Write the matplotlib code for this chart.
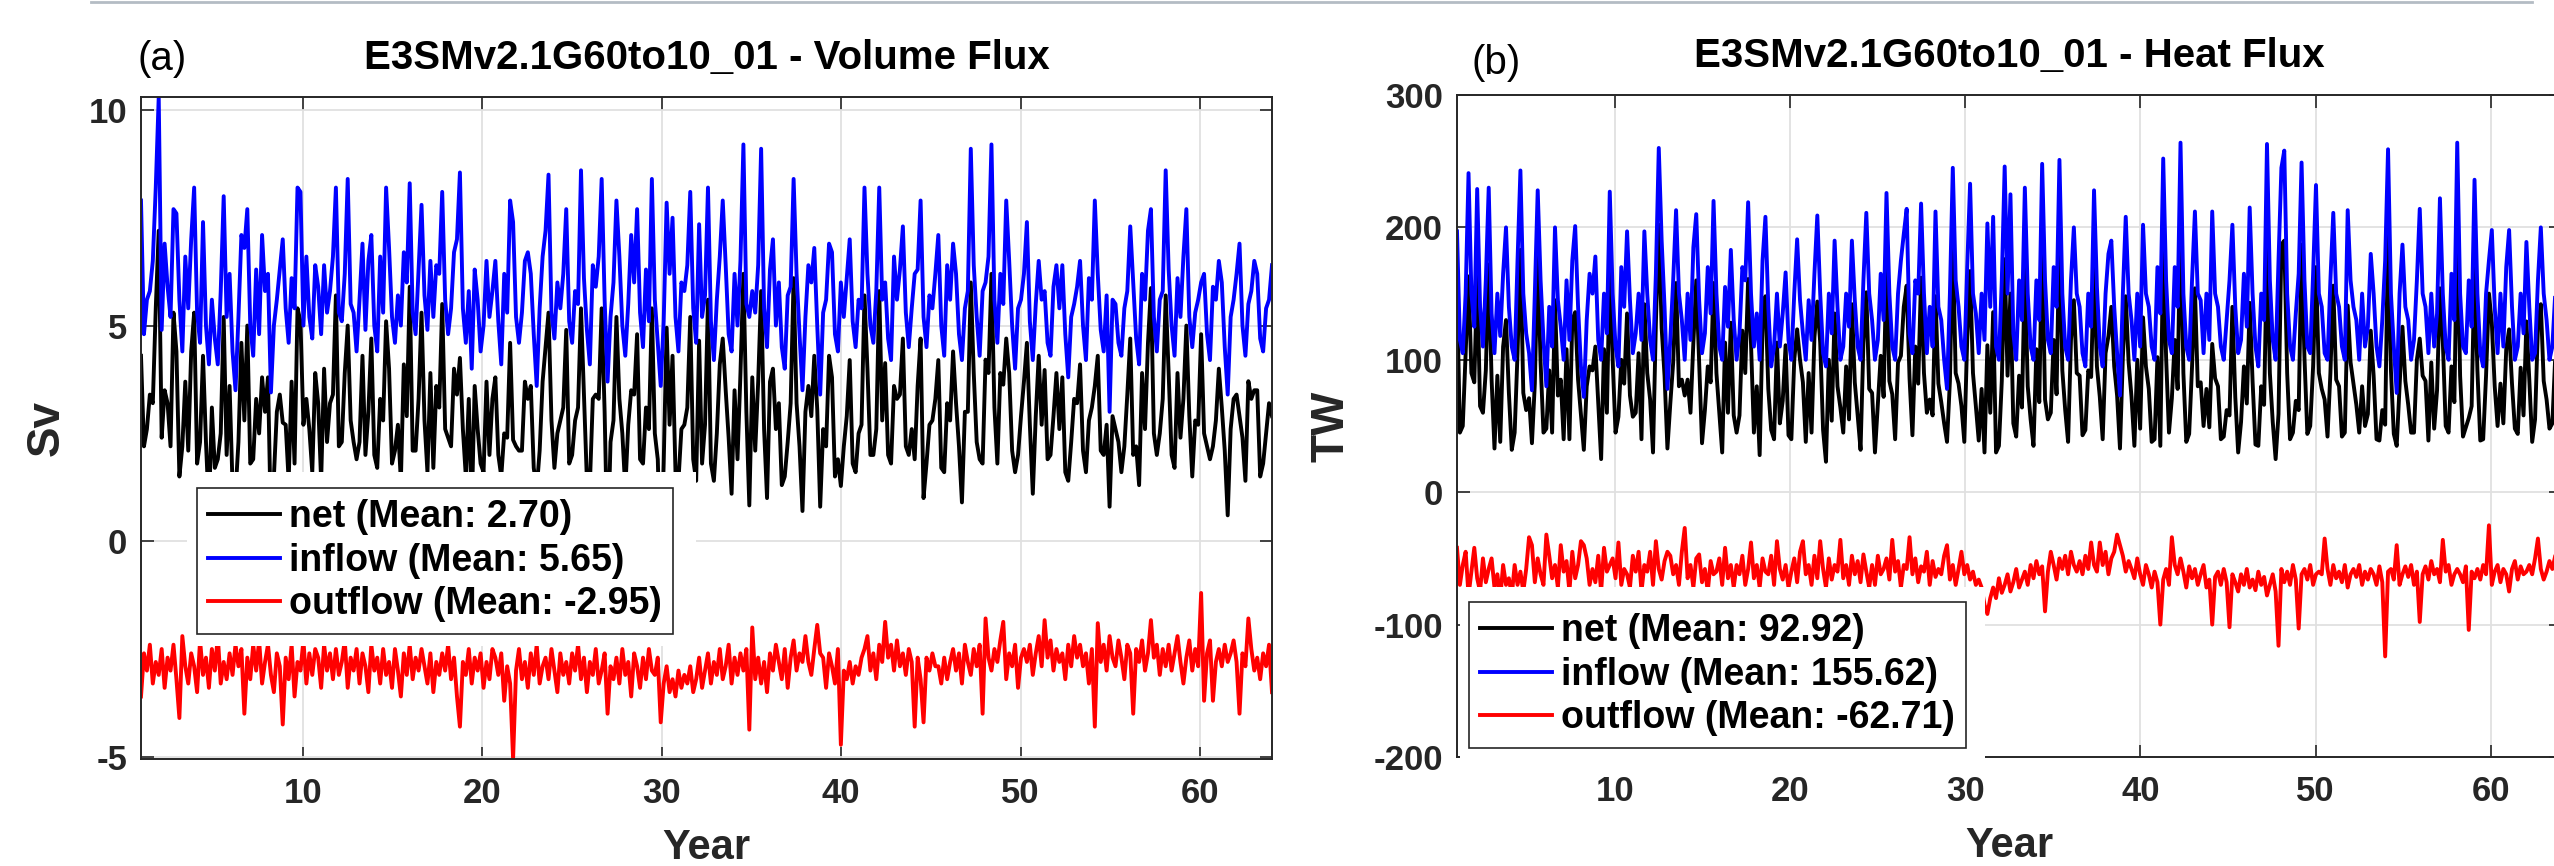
import numpy as np
import matplotlib.pyplot as plt
from matplotlib.patches import Rectangle
from matplotlib.lines import Line2D

# Volume flux (Sv), 6 samples per model year, years 1-64
vol_in = [
    7.9, 4.8, 5.6, 5.8, 6.5, 8.2,   10.3, 4.9, 6.9, 5.9, 5.2, 7.7,
    7.6, 5.6, 4.4, 6.6, 5.4, 7.0,   8.2, 5.3, 4.6, 7.4, 5.0, 4.1,
    5.6, 4.7, 4.1, 5.8, 8.0, 5.2,   6.2, 4.4, 3.5, 5.2, 7.1, 6.8,
    7.7, 5.0, 4.3, 6.3, 4.8, 7.1,   5.8, 6.2, 3.45, 5.0, 5.6, 6.3,
    7.0, 5.4, 4.6, 6.1, 5.4, 8.2,   8.1, 5.0, 6.6, 5.2, 4.7, 6.4,
    5.9, 4.8, 6.4, 5.3, 5.8, 6.6,   8.2, 5.3, 5.1, 6.2, 8.4, 5.5,
    5.3, 4.4, 5.6, 6.9, 4.9, 6.5,   7.1, 5.0, 4.4, 6.6, 5.3, 8.2,
    6.8, 5.2, 4.6, 5.7, 5.0, 6.7,   6.0, 8.3, 5.3, 4.8, 6.3, 7.8,
    5.7, 4.9, 6.5, 5.2, 6.4, 6.2,   8.1, 5.6, 4.8, 5.4, 6.7, 7.0,
    8.55, 5.4, 4.6, 5.8, 4.0, 6.3,  5.6, 4.4, 5.0, 6.5, 5.2, 5.8,
    6.5, 5.1, 4.1, 6.2, 5.3, 7.9,   7.4, 5.2, 4.6, 5.3, 6.5, 6.7,
    6.2, 4.8, 3.6, 5.4, 6.6, 7.2,   8.5, 5.3, 4.7, 6.0, 5.4, 6.2,
    7.7, 5.1, 4.6, 5.8, 5.5, 8.6,   6.1, 4.9, 4.1, 6.4, 5.9, 6.6,
    8.4, 5.6, 3.7, 5.2, 6.0, 7.9,   6.6, 5.0, 4.3, 5.5, 7.1, 6.0,
    7.7, 5.3, 4.5, 6.3, 5.1, 8.4,   5.6, 4.6, 3.6, 5.1, 7.85, 6.2,
    7.5, 5.2, 4.4, 6.0, 5.8, 6.4,   8.1, 5.4, 4.6, 7.35, 5.2, 5.7,
    8.2, 5.1, 4.2, 5.6, 6.6, 7.9,   6.4, 4.8, 4.4, 6.2, 5.0, 6.5,
    9.2, 5.5, 5.2, 5.8, 5.3, 6.4,   9.1, 5.4, 4.5, 6.3, 7.0, 5.0,
    6.0, 4.5, 4.0, 5.7, 5.9, 8.4,   6.2, 4.8, 3.5, 5.2, 6.4, 6.0,
    6.8, 5.0, 3.4, 5.3, 5.6, 6.9,   6.7, 4.8, 4.4, 6.0, 5.2, 6.1,
    7.0, 5.1, 4.5, 5.6, 5.4, 8.2,   6.2, 5.0, 4.6, 5.8, 8.2, 5.6,
    6.0, 4.7, 4.2, 6.6, 5.6, 6.3,   7.3, 5.3, 4.5, 5.4, 6.2, 6.3,
    7.9, 5.2, 4.5, 5.7, 5.4, 6.2,   7.1, 5.0, 4.3, 6.4, 5.6, 6.9,
    6.2, 4.8, 4.2, 5.4, 5.8, 9.1,   6.4, 5.2, 4.3, 5.8, 6.0, 6.6,
    9.2, 5.6, 4.6, 6.2, 5.5, 7.9,   6.5, 5.0, 4.0, 5.4, 5.6, 6.2,
    7.4, 5.1, 4.2, 5.5, 6.5, 5.6,   5.8, 4.6, 4.3, 5.9, 6.4, 5.4,
    6.4, 4.8, 3.8, 5.2, 5.5, 5.9,   6.5, 5.0, 4.2, 6.1, 5.6, 7.9,
    6.2, 4.9, 4.4, 5.7, 3.0, 5.6,   5.5, 4.6, 4.3, 5.4, 5.8, 7.3,
    6.0, 4.7, 4.1, 6.2, 5.6, 7.2,   7.7, 5.2, 4.4, 5.6, 5.8, 8.6,
    6.3, 5.0, 4.3, 6.1, 5.2, 6.6,   7.7, 5.2, 4.5, 5.3, 5.6, 6.0,
    6.2, 4.8, 4.2, 5.9, 5.6, 6.5,   6.0, 4.5, 3.4, 5.2, 5.6, 6.2,
    6.9, 5.0, 4.3, 5.5, 5.8, 6.5,   6.2, 4.7, 4.4, 5.4, 5.6, 6.4,
]
vol_out = [
    -3.6, -2.6, -3.0, -2.4, -3.3, -2.8,   -3.1, -2.5, -3.4, -2.7, -3.0, -2.4,
    -3.2, -4.1, -2.2, -2.9, -3.3, -2.6,   -2.9, -3.5, -2.3, -3.1, -2.7, -3.4,
    -2.5, -3.0, -2.2, -3.3, -2.8, -3.2,   -2.6, -3.1, -2.4, -2.9, -2.5, -4.0,
    -2.7, -3.2, -2.4, -3.0, -2.3, -3.3,   -2.8, -2.4, -3.1, -3.5, -2.6, -2.9,
    -4.25, -2.7, -3.2, -2.4, -3.6, -2.8,  -3.0, -2.3, -3.3, -2.6, -3.1, -2.5,
    -2.7, -3.4, -2.4, -3.0, -2.6, -3.2,   -2.5, -3.1, -2.8, -2.3, -3.4, -2.7,
    -3.0, -2.5, -3.3, -2.6, -2.9, -3.5,   -2.4, -3.0, -2.7, -3.3, -2.5, -3.1,
    -2.8, -3.4, -2.5, -3.0, -3.6, -2.6,   -3.1, -2.4, -3.2, -2.7, -3.0, -2.5,
    -2.9, -3.3, -2.6, -3.5, -2.8, -3.1,   -2.6, -3.0, -2.4, -3.2, -2.7, -3.6,
    -4.3, -2.8, -3.1, -2.5, -3.3, -2.7,   -3.0, -2.6, -3.4, -2.8, -3.2, -2.5,
    -2.7, -3.1, -2.6, -3.7, -2.9, -3.3,   -5.05, -3.0, -2.5, -3.2, -2.8, -3.4,
    -2.6, -3.1, -2.4, -3.3, -2.9, -2.7,   -3.2, -2.5, -3.0, -3.5, -2.6, -3.1,
    -2.8, -3.3, -2.6, -3.0, -2.4, -3.2,   -2.7, -3.5, -2.8, -3.1, -2.5, -3.3,
    -3.0, -2.6, -4.0, -2.9, -3.2, -2.7,   -3.3, -2.5, -3.1, -2.8, -3.6, -2.6,
    -2.9, -3.4, -2.7, -3.2, -2.5, -3.0,   -3.1, -2.7, -4.2, -3.3, -2.9, -3.5,
    -3.2, -3.6, -3.0, -3.4, -3.1, -3.3,   -2.9, -3.5, -3.2, -2.7, -3.4, -3.0,
    -2.6, -3.3, -2.8, -3.1, -2.5, -3.2,   -2.9, -2.4, -3.3, -2.7, -3.1, -2.6,
    -3.0, -2.5, -4.37, -2.0, -3.2, -2.7,  -3.3, -2.8, -3.5, -2.6, -3.0, -2.4,
    -2.8, -3.2, -2.5, -3.4, -2.7, -2.3,   -3.0, -2.6, -2.8, -2.2, -2.8, -3.1,
    -2.5, -1.94, -2.6, -2.7, -3.4, -2.6,  -2.9, -3.3, -2.5, -4.72, -3.0, -3.2,
    -2.8, -3.3, -2.9, -3.1, -2.7, -2.5,   -2.2, -3.0, -2.6, -3.2, -2.4, -2.8,
    -1.87, -2.7, -2.4, -3.0, -2.3, -2.9,  -2.6, -3.1, -2.5, -2.8, -4.3, -2.7,
    -3.2, -4.2, -2.7, -3.0, -2.6, -2.9,   -2.9, -3.3, -2.7, -3.2, -2.8, -2.5,
    -3.0, -2.6, -3.3, -2.4, -2.8, -3.1,   -2.5, -2.9, -2.4, -4.0, -1.79, -2.7,
    -3.0, -2.5, -2.8, -2.3, -1.87, -3.2,  -2.6, -2.9, -2.4, -3.4, -2.7, -2.5,
    -2.8, -2.4, -3.1, -2.6, -2.2, -2.9,   -1.83, -2.7, -2.3, -3.0, -2.5, -2.8,
    -2.6, -3.2, -2.4, -2.9, -2.2, -2.7,   -2.4, -2.9, -2.6, -3.3, -2.5, -4.3,
    -1.9, -2.8, -2.4, -3.0, -2.2, -2.7,   -2.9, -2.3, -2.7, -3.2, -2.4, -2.6,
    -4.0, -2.5, -2.8, -2.3, -3.0, -2.6,   -1.83, -2.7, -2.4, -3.1, -2.5, -2.9,
    -2.4, -3.0, -2.6, -2.2, -2.8, -3.3,   -2.7, -2.3, -3.0, -2.5, -2.9, -1.2,
    -3.7, -2.6, -2.3, -3.7, -2.8, -2.5,   -2.9, -2.4, -2.8, -2.6, -2.3, -2.8,
    -4.0, -2.6, -2.9, -1.79, -2.5, -3.0,  -2.7, -3.2, -2.6, -2.9, -2.4, -3.5,
]

# Heat flux (TW), 6 samples per model year, years 1-64
heat_in = [
    197, 115, 105, 150, 241, 150,   125, 229, 140, 110, 160, 230,
    135, 105, 150, 118, 165, 200,   140, 110, 100, 175, 243, 150,
    120, 105, 77, 150, 228, 160,    115, 80, 140, 110, 200, 145,
    125, 100, 160, 115, 175, 201,   140, 95, 72, 130, 165, 150,
    178, 115, 100, 150, 120, 227,   150, 110, 95, 170, 140, 197,
    145, 105, 120, 150, 115, 197,   150, 115, 100, 165, 260, 190,
    140, 78, 115, 160, 213, 150,    130, 100, 150, 115, 185, 210,
    145, 105, 120, 170, 135, 220,   150, 110, 100, 155, 125, 183,
    130, 100, 120, 170, 160, 219,   150, 110, 135, 100, 175, 208,
    140, 95, 110, 150, 110, 135,    166, 115, 100, 150, 191, 145,
    120, 100, 145, 115, 165, 209,   150, 105, 95, 150, 120, 190,
    140, 100, 110, 150, 125, 190,   145, 110, 100, 160, 211, 150,
    130, 100, 115, 165, 130, 226,   150, 110, 100, 150, 175, 195,
    214, 120, 105, 160, 150, 218,   150, 105, 140, 110, 212, 140,
    130, 100, 78, 150, 245, 160,    140, 110, 100, 170, 233, 150,
    135, 105, 150, 115, 203, 140,   208, 110, 100, 160, 246, 150,
    225, 120, 100, 160, 130, 230,   150, 110, 100, 160, 130, 248,
    160, 115, 105, 170, 140, 251,   150, 110, 100, 160, 200, 150,
    140, 105, 95, 150, 125, 228,    155, 110, 95, 150, 180, 190,
    140, 105, 73, 150, 208, 150,    130, 100, 150, 110, 202, 150,
    140, 110, 100, 170, 135, 252,   160, 115, 105, 170, 140, 264,
    150, 110, 100, 160, 212, 150,   145, 105, 150, 115, 212, 150,
    140, 110, 100, 130, 160, 202,   140, 105, 115, 165, 125, 215,
    150, 110, 95, 150, 130, 263,    160, 115, 100, 175, 245, 258,
    150, 110, 100, 135, 165, 249,   160, 110, 105, 165, 232, 150,
    140, 105, 100, 160, 211, 150,   140, 110, 100, 213, 160, 140,
    130, 100, 150, 110, 125, 180,   150, 110, 95, 130, 175, 259,
    150, 110, 75, 150, 187, 140,    130, 100, 115, 160, 214, 150,
    140, 105, 150, 110, 135, 222,   150, 110, 100, 165, 130, 264,
    150, 110, 105, 160, 125, 236,   150, 105, 95, 150, 175, 198,
    140, 105, 150, 110, 170, 198,   140, 100, 110, 150, 120, 189,
    140, 100, 105, 160, 200, 150,   130, 100, 110, 150, 170, 190,
]
heat_out = [
    -42, -70, -55, -45, -78, -60,   -42, -65, -75, -50, -68, -58,
    -50, -72, -62, -80, -55, -70,   -65, -78, -55, -70, -60, -75,
    -58, -34, -40, -68, -50, -62,   -70, -32, -48, -65, -55, -72,
    -40, -60, -52, -75, -45, -65,   -55, -37, -40, -50, -70, -58,
    -68, -48, -75, -42, -60, -55,   -50, -65, -38, -70, -58, -62,
    -72, -48, -60, -45, -75, -55,   -60, -45, -70, -37, -58, -66,
    -52, -45, -48, -62, -55, -70,   -45, -27, -65, -55, -72, -50,
    -47, -68, -58, -75, -52, -62,   -60, -50, -70, -42, -65, -55,
    -72, -55, -62, -48, -70, -58,   -38, -65, -55, -72, -50, -60,
    -62, -48, -70, -37, -58, -66,   -55, -72, -60, -50, -68, -45,
    -37, -62, -55, -70, -48, -65,   -37, -58, -72, -50, -66, -55,
    -60, -36, -65, -55, -70, -48,   -62, -52, -68, -47, -60, -72,
    -55, -70, -48, -62, -58, -50,   -66, -36, -60, -52, -72, -55,
    -58, -34, -62, -50, -68, -56,   -60, -45, -70, -52, -64, -58,
    -62, -48, -40, -66, -55, -70,   -58, -45, -62, -55, -66, -60,
    -70, -66, -72, -85, -92, -80,   -72, -80, -65, -76, -70, -62,
    -75, -68, -58, -72, -66, -60,   -70, -55, -65, -52, -62, -56,
    -90, -60, -45, -55, -66, -50,   -58, -48, -62, -45, -55, -60,
    -52, -62, -48, -58, -38, -55,   -60, -38, -55, -45, -62, -50,
    -45, -32, -40, -48, -60, -52,   -58, -65, -50, -62, -70, -55,
    -62, -72, -60, -68, -100, -66,  -58, -70, -34, -55, -62, -50,
    -60, -72, -56, -65, -58, -70,   -62, -55, -72, -66, -100, -64,
    -60, -70, -58, -68, -102, -62,  -68, -75, -62, -70, -58, -72,
    -66, -74, -60, -70, -64, -78,   -70, -62, -75, -116, -58, -68,
    -60, -70, -55, -66, -103, -62,  -58, -66, -55, -70, -62, -60,
    -62, -35, -58, -70, -55, -65,   -60, -68, -55, -72, -62, -58,
    -64, -55, -70, -60, -66, -58,   -62, -70, -56, -68, -124, -60,
    -58, -66, -40, -70, -62, -56,   -64, -55, -70, -60, -98, -62,
    -56, -66, -52, -62, -58, -68,   -36, -60, -55, -70, -62, -58,
    -62, -68, -56, -104, -60, -65,  -58, -66, -55, -62, -25, -70,
    -60, -55, -68, -58, -62, -75,   -58, -52, -66, -56, -62, -60,
    -55, -62, -50, -35, -58, -66,   -60, -52, -58, -48, -62, -55,
]

# means as printed in the legends
vol_means = [2.70, 5.65, -2.95]
heat_means = [92.92, 155.62, -62.71]

vol_net = np.array(vol_in) + np.array(vol_out)
heat_net = np.array(heat_in) + np.array(heat_out)
t = np.linspace(1, 64, len(vol_in))

plt.rcParams['font.family'] = ['Liberation Sans', 'DejaVu Sans']
plt.rcParams['axes.unicode_minus'] = False

W, H = 2554, 866
fig = plt.figure(figsize=(W / 100, H / 100), dpi=100)
ax1 = fig.add_axes([141 / W, 1 - 759 / H, 1131 / W, 662 / H])
ax2 = fig.add_axes([1457 / W, 1 - 757 / H, 1104 / W, 662 / H])

panels = [
    (ax1, vol_net, vol_in, vol_out, vol_means, 'Sv', 'E3SMv2.1G60to10_01 - Volume Flux',
     (-5.05, 10.3), [-5, 0, 5, 10]),
    (ax2, heat_net, heat_in, heat_out, heat_means, 'TW', 'E3SMv2.1G60to10_01 - Heat Flux',
     (-200, 300), [-200, -100, 0, 100, 200, 300]),
]

dark = '#262626'
all_handles = []
for ax, net, inflow, outflow, means, unit, title, ylim, yticks in panels:
    h1, = ax.plot(t, net, color='black', lw=2.8)
    h2, = ax.plot(t, inflow, color='blue', lw=2.8)
    h3, = ax.plot(t, outflow, color='red', lw=2.8)
    all_handles.append(([h1, h2, h3], means))
    ax.set_xlim(1, 64)
    ax.set_ylim(*ylim)
    ax.set_xticks([10, 20, 30, 40, 50, 60])
    ax.set_yticks(yticks)
    ax.grid(True, color='#e0e0e0', lw=1.3)
    ax.set_axisbelow(True)
    ax.tick_params(direction='in', top=True, right=True, length=9, width=1.2,
                   colors=dark, labelsize=25)
    ax.tick_params(axis='x', pad=13)
    ax.tick_params(axis='y', pad=10)
    for lab in ax.get_xticklabels() + ax.get_yticklabels():
        lab.set_fontweight('bold')
    for sp in ax.spines.values():
        sp.set_color(dark)
        sp.set_linewidth(1.4)
    ax.set_title(title, fontsize=29, fontweight='bold', pad=20)
    ax.set_xlabel('Year', fontsize=30, fontweight='bold', color=dark)
    ax.set_ylabel(unit, fontsize=33, fontweight='bold', color=dark)

ax1.xaxis.set_label_coords(0.5, -0.104)
ax2.xaxis.set_label_coords(0.5, -0.104)
ax1.yaxis.set_label_coords(-0.064, 0.5)
ax2.yaxis.set_label_coords(-0.094, 0.5)

# white boxes behind the legends (they cover the curves and part of the axis)
fig.patches.append(Rectangle((187 / W, 1 - 646 / H), 509 / W, 174 / H,
                             transform=fig.transFigure, facecolor='white',
                             edgecolor='none', zorder=2))
fig.patches.append(Rectangle((1460 / W, 1 - 765 / H), 525 / W, 178 / H,
                             transform=fig.transFigure, facecolor='white',
                             edgecolor='none', zorder=2))

names = ['net', 'inflow', 'outflow']
anchors = [(197 / W, 1 - 488 / H), (1469 / W, 1 - 602 / H)]
for (handles, means), anchor in zip(all_handles, anchors):
    labels = [f'{n} (Mean: {m:.2f})' for n, m in zip(names, means)]
    leg = fig.legend(handles, labels, loc='upper left', bbox_to_anchor=anchor,
                     bbox_transform=fig.transFigure, borderaxespad=0,
                     prop={'size': 27, 'weight': 'bold'}, handlelength=1.9,
                     handletextpad=0.25, labelspacing=0.2, borderpad=0.3,
                     fancybox=False, framealpha=1, edgecolor=dark)
    leg.get_frame().set_linewidth(1.2)
    leg.set_zorder(5)

fig.text(137 / W, 1 - 70 / H, '(a)', fontsize=29, color='black')
fig.text(1472 / W, 1 - 74 / H, '(b)', fontsize=29, color='black')

# thin grey rule along the top edge
fig.add_artist(Line2D([91 / W, 2532 / W], [1 - 1.5 / H, 1 - 1.5 / H],
                      transform=fig.transFigure, color='#b4bcc4', lw=2))

fig.savefig('out.png', dpi=100)
